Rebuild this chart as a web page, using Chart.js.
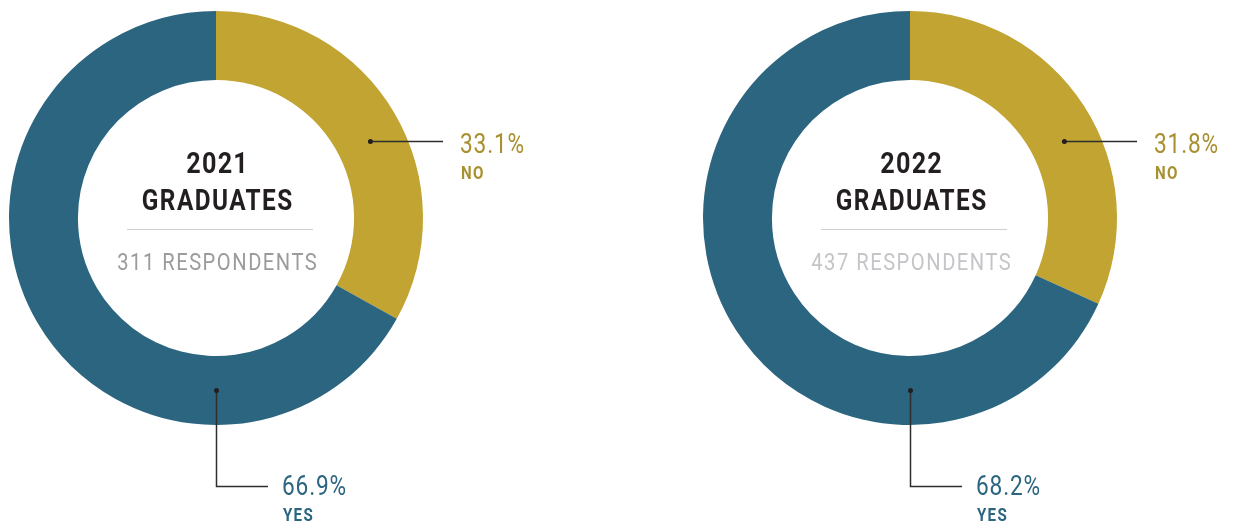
<!DOCTYPE html>
<html>
<head>
<meta charset="utf-8">
<script src="https://cdn.jsdelivr.net/npm/chart.js@4.4.1/dist/chart.umd.min.js"></script>
<style>
    html, body { margin: 0; padding: 0; background: #fff; overflow: hidden; }
    body { width: 1233px; height: 525px; position: relative; }
    .donut { position: absolute; top: 0; width: 540px; height: 525px; }
</style>
</head>
<body>
<div class="donut" style="left:0"><canvas id="chart2021" width="540" height="525"></canvas></div>
<div class="donut" style="left:694px"><canvas id="chart2022" width="540" height="525"></canvas></div>
<script>
// survey results per graduating class
const years = ['2021', '2022'];
const respondents = [311, 437];
const answerLabels = ['NO', 'YES'];
const noShare = [33.1, 31.8];
const yesShare = [66.9, 68.2];

const GOLD = '#c1a432';
const GOLD_TEXT = '#a8902f';
const TEAL = '#2b657f';
const DARK = '#231f20';
const respondentGray = ['#9b9b9d', '#c4c5c8'];

const FONT = 'Roboto, "Open Sans", sans-serif';
const SQUEEZE = 0.84; // narrow the glyphs a bit, like a condensed face

function squeezedText(ctx, text, x, y, opts) {
    ctx.save();
    ctx.font = `${opts.weight || 400} ${opts.size}px ${FONT}`;
    ctx.fillStyle = opts.color;
    ctx.letterSpacing = (opts.spacing || 0) + 'px';
    ctx.textBaseline = 'alphabetic';
    ctx.textAlign = 'left';
    const w = ctx.measureText(text).width - (opts.spacing || 0);
    ctx.translate(x, y);
    ctx.scale(SQUEEZE, 1);
    let start = 0;
    if (opts.align === 'center') start = -w / 2;
    ctx.fillText(text, start, 0);
    ctx.restore();
}

function dot(ctx, x, y) {
    ctx.beginPath();
    ctx.arc(x, y, 2.5, 0, Math.PI * 2);
    ctx.fillStyle = DARK;
    ctx.fill();
}

const calloutPlugin = {
    id: 'callouts',
    afterDraw(chart) {
        const i = chart.options.plugins.callouts.index;
        const ctx = chart.ctx;
        const arc = chart.getDatasetMeta(0).data[0];
        const cx = arc.x, cy = arc.y;
        const mid = (arc.outerRadius + arc.innerRadius) / 2;

        // centre caption
        squeezedText(ctx, years[i], cx + 1, cy - 45, { size: 30, weight: 700, color: DARK, spacing: 1.5, align: 'center' });
        squeezedText(ctx, 'GRADUATES', cx + 1, cy - 8, { size: 29, weight: 700, color: DARK, spacing: 1.7, align: 'center' });
        ctx.save();
        ctx.strokeStyle = '#cfcfd1';
        ctx.lineWidth = 1;
        ctx.beginPath();
        ctx.moveTo(cx - 89, cy + 11.5);
        ctx.lineTo(cx + 97, cy + 11.5);
        ctx.stroke();
        ctx.restore();
        squeezedText(ctx, respondents[i] + ' RESPONDENTS', cx + 1, cy + 52, { size: 24, weight: 400, color: respondentGray[i], spacing: 1.8, align: 'center' });

        ctx.save();
        ctx.strokeStyle = '#2e2e2e';
        ctx.lineWidth = 1.5;

        // NO callout
        const a = -26.5 * Math.PI / 180;
        const nx = cx + mid * Math.cos(a);
        const ny = Math.round(cy + mid * Math.sin(a)) + 0.5;
        ctx.beginPath();
        ctx.moveTo(nx, ny);
        ctx.lineTo(cx + 227, ny);
        ctx.stroke();
        dot(ctx, nx, ny);

        // YES callout
        const yx = Math.round(cx) + 0.5;
        const yy = cy + mid;
        ctx.beginPath();
        ctx.moveTo(yx, yy);
        ctx.lineTo(yx, cy + 268.5);
        ctx.lineTo(cx + 52, cy + 268.5);
        ctx.stroke();
        dot(ctx, yx, yy);
        ctx.restore();

        squeezedText(ctx, noShare[i].toFixed(1) + '%', cx + 244, cy - 65, { size: 27, weight: 400, color: GOLD_TEXT, spacing: 1 });
        squeezedText(ctx, answerLabels[0], cx + 245, cy - 39, { size: 18, weight: 700, color: GOLD_TEXT, spacing: 1.5 });
        squeezedText(ctx, yesShare[i].toFixed(1) + '%', cx + 66, cy + 277, { size: 27, weight: 400, color: TEAL, spacing: 1 });
        squeezedText(ctx, answerLabels[1], cx + 67, cy + 303, { size: 18, weight: 700, color: TEAL, spacing: 1.5 });
    }
};

function buildDonut(canvasId, i) {
    const ctx = document.getElementById(canvasId).getContext('2d');
    return new Chart(ctx, {
        type: 'doughnut',
        data: {
            labels: answerLabels,
            datasets: [{
                data: [noShare[i], yesShare[i]],
                backgroundColor: [GOLD, TEAL],
                borderWidth: 0
            }]
        },
        options: {
            responsive: false,
            animation: false,
            events: [],
            cutout: '66.7%',
            layout: { padding: { left: 9, top: 11, right: 117, bottom: 100 } },
            plugins: {
                legend: { display: false },
                tooltip: { enabled: false },
                callouts: { index: i }
            }
        },
        plugins: [calloutPlugin]
    });
}

buildDonut('chart2021', 0);
buildDonut('chart2022', 1);
</script>
</body>
</html>
